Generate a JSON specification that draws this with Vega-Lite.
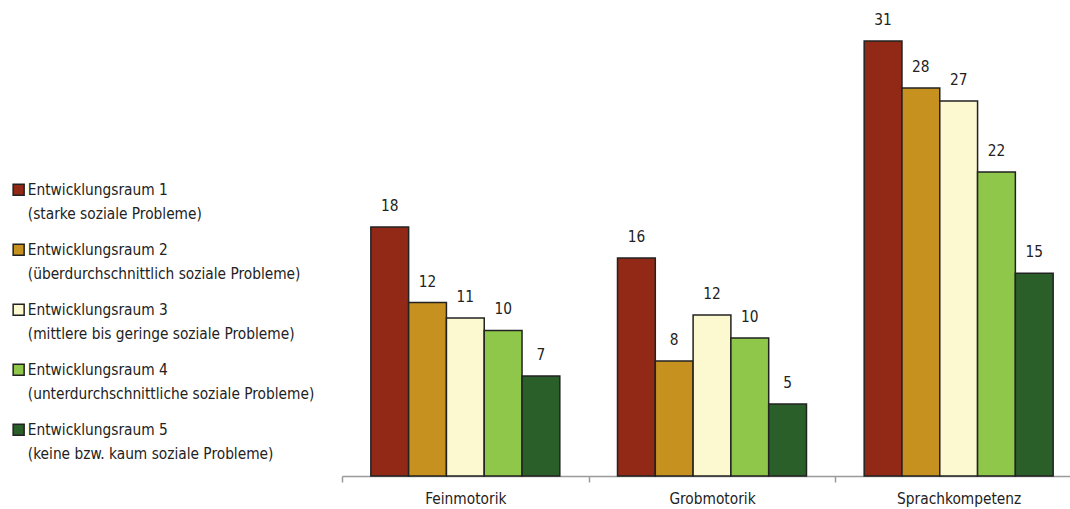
{
  "$schema": "https://vega.github.io/schema/vega-lite/v6.json",
  "autosize": {"type": "none"},
  "padding": {"left": 342, "top": 0, "right": 0, "bottom": 33},
  "width": 728,
  "height": 476,
  "background": "white",
  "data": {
    "values": [
      {"bereich": "Feinmotorik", "raum": "Entwicklungsraum 1|(starke soziale Probleme)", "wert": 17.88},
      {"bereich": "Feinmotorik", "raum": "Entwicklungsraum 2|(überdurchschnittlich soziale Probleme)", "wert": 12.45},
      {"bereich": "Feinmotorik", "raum": "Entwicklungsraum 3|(mittlere bis geringe soziale Probleme)", "wert": 11.34},
      {"bereich": "Feinmotorik", "raum": "Entwicklungsraum 4|(unterdurchschnittliche soziale Probleme)", "wert": 10.45},
      {"bereich": "Feinmotorik", "raum": "Entwicklungsraum 5|(keine bzw. kaum soziale Probleme)", "wert": 7.18},
      {"bereich": "Grobmotorik", "raum": "Entwicklungsraum 1|(starke soziale Probleme)", "wert": 15.65},
      {"bereich": "Grobmotorik", "raum": "Entwicklungsraum 2|(überdurchschnittlich soziale Probleme)", "wert": 8.26},
      {"bereich": "Grobmotorik", "raum": "Entwicklungsraum 3|(mittlere bis geringe soziale Probleme)", "wert": 11.56},
      {"bereich": "Grobmotorik", "raum": "Entwicklungsraum 4|(unterdurchschnittliche soziale Probleme)", "wert": 9.91},
      {"bereich": "Grobmotorik", "raum": "Entwicklungsraum 5|(keine bzw. kaum soziale Probleme)", "wert": 5.17},
      {"bereich": "Sprachkompetenz", "raum": "Entwicklungsraum 1|(starke soziale Probleme)", "wert": 31.23},
      {"bereich": "Sprachkompetenz", "raum": "Entwicklungsraum 2|(überdurchschnittlich soziale Probleme)", "wert": 27.85},
      {"bereich": "Sprachkompetenz", "raum": "Entwicklungsraum 3|(mittlere bis geringe soziale Probleme)", "wert": 26.92},
      {"bereich": "Sprachkompetenz", "raum": "Entwicklungsraum 4|(unterdurchschnittliche soziale Probleme)", "wert": 21.82},
      {"bereich": "Sprachkompetenz", "raum": "Entwicklungsraum 5|(keine bzw. kaum soziale Probleme)", "wert": 14.55}
    ]
  },
  "encoding": {
    "x": {
      "field": "bereich", "type": "nominal", "title": null,
      "sort": ["Feinmotorik", "Grobmotorik", "Sprachkompetenz"],
      "scale": {"range": [0, 740], "paddingInner": 0, "paddingOuter": 0},
      "axis": {
        "labelAngle": 0, "tickBand": "extent", "domainColor": "#9a9a9a", "domainWidth": 1.5,
        "tickColor": "#9a9a9a", "tickWidth": 1.5, "tickSize": 6, "labelPadding": 9,
        "labelFont": "DejaVu Sans Condensed, Liberation Sans", "labelFontSize": 15.3, "labelColor": "#222222"
      }
    },
    "xOffset": {"field": "raum", "type": "nominal", "scale": {"paddingInner": 0, "paddingOuter": 0.763}},
    "y": {"field": "wert", "type": "quantitative", "scale": {"domain": [0, 34.17], "nice": false, "zero": true}, "axis": null}
  },
  "layer": [
    {
      "mark": {"type": "bar", "stroke": "#222222", "strokeWidth": 1.5},
      "encoding": {
        "color": {
          "field": "raum", "type": "nominal", "title": null,
          "scale": {"range": ["#922916", "#c7911f", "#fcf8cf", "#8fc74a", "#2a5f2a"]},
          "legend": {
            "orient": "none", "legendX": -331, "legendY": 182,
            "symbolType": "square", "symbolSize": 121, "symbolStrokeColor": "#222222", "symbolStrokeWidth": 1.5,
            "labelExpr": "split(datum.label, '|')", "labelFont": "DejaVu Sans Condensed, Liberation Sans", "labelFontSize": 15.3,
            "labelColor": "#222222", "labelLimit": 500, "labelOffset": 1.5, "rowPadding": 18,
            "labelBaseline": "alphabetic",
            "encode": {"labels": {"update": {"lineHeight": {"value": 24}, "dy": {"value": 5.5}}}}
          }
        }
      }
    },
    {
      "mark": {"type": "text", "baseline": "alphabetic", "dy": -16, "font": "DejaVu Sans Condensed, Liberation Sans", "fontSize": 15.3, "color": "#222222"},
      "encoding": {"text": {"field": "wert", "type": "quantitative", "format": ".0f"}}
    }
  ],
  "config": {"view": {"stroke": null}}
}
